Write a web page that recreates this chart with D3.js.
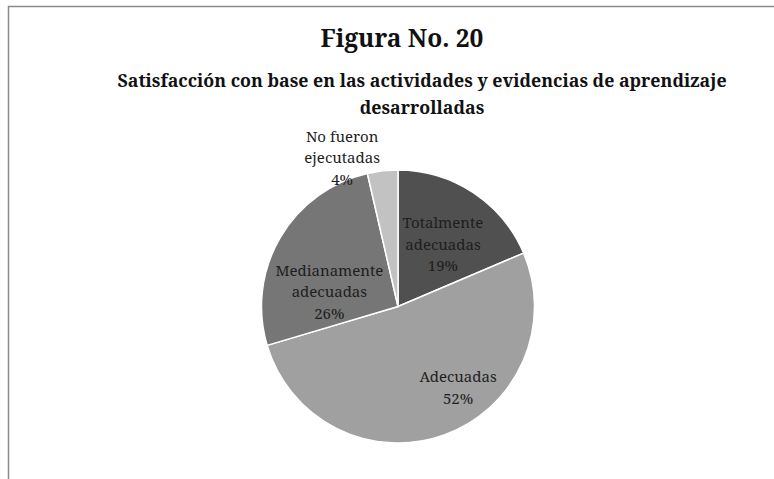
<!DOCTYPE html>
<html>
<head>
<meta charset="utf-8">
<script src="https://cdn.jsdelivr.net/npm/d3@7"></script>
<style>
  body { margin: 0; background: #fff; }
  svg text { font-family: "Noto Serif", "DejaVu Serif", serif; }
</style>
</head>
<body>
<div id="chart"></div>
<script>
// data
var categories = ["Totalmente adecuadas", "Adecuadas", "Medianamente adecuadas", "No fueron ejecutadas"];
var labelLines = [["Totalmente", "adecuadas"], ["Adecuadas"], ["Medianamente", "adecuadas"], ["No fueron", "ejecutadas"]];
var values = [18.6, 51.8, 26.0, 3.6];
var colors = ["#505050", "#a0a0a0", "#767676", "#c2c2c2"];

// label placement tweaks (Excel "best fit" style)
var labelRadius = [0.65, 0.65, 0.65, 1.16];
var labelNudge = [[-4, 12], [30, -2], [8, 30], [-38, 9]];

var width = 774, height = 479;
var cx = 398, cy = 306.5, radius = 136.5;

var svg = d3.select("#chart")
  .append("svg")
    .attr("width", width)
    .attr("height", height);

// frame (only top and left edges visible in the crop)
svg.append("rect")
  .attr("x", 8.5).attr("y", 6.5)
  .attr("width", width + 20).attr("height", height + 20)
  .attr("fill", "none")
  .attr("stroke", "#8a8a8a")
  .attr("stroke-width", 1.5);

svg.append("text")
  .attr("x", 402).attr("y", 47)
  .attr("text-anchor", "middle")
  .attr("font-size", 24.5).attr("font-weight", "bold")
  .attr("fill", "#111")
  .text("Figura No. 20");

svg.append("text")
  .attr("x", 422).attr("y", 87)
  .attr("text-anchor", "middle")
  .attr("font-size", 17.8).attr("font-weight", "bold")
  .attr("fill", "#111")
  .text("Satisfacción con base en las actividades y evidencias de aprendizaje");

svg.append("text")
  .attr("x", 422).attr("y", 114)
  .attr("text-anchor", "middle")
  .attr("font-size", 17.8).attr("font-weight", "bold")
  .attr("fill", "#111")
  .text("desarrolladas");

var pie = d3.pie().sort(null).value(function(d) { return d; });
var arcs = pie(values);
var total = d3.sum(values);

var arc = d3.arc().innerRadius(0).outerRadius(radius);

var g = svg.append("g")
  .attr("transform", "translate(" + cx + "," + cy + ")");

g.selectAll("path")
  .data(arcs)
  .enter()
  .append("path")
    .attr("d", arc)
    .attr("fill", function(d, i) { return colors[i]; })
    .attr("stroke", "#fff")
    .attr("stroke-width", 1.5)
    .attr("stroke-linejoin", "round");

var labels = g.selectAll("g.lbl")
  .data(arcs)
  .enter()
  .append("g")
    .attr("class", "lbl")
    .attr("transform", function(d, i) {
      var r = radius * labelRadius[i];
      var c = d3.arc().innerRadius(r).outerRadius(r).centroid(d);
      return "translate(" + (c[0] + labelNudge[i][0]) + "," + (c[1] + labelNudge[i][1]) + ")";
    });

labels.each(function(d, i) {
  var lines = labelLines[i].concat([Math.round(d.value / total * 100) + "%"]);
  var lh = 21.5;
  var start = -(lines.length - 1) / 2 * lh;
  var t = d3.select(this).append("text")
    .attr("text-anchor", "middle")
    .attr("font-size", 15)
    .attr("fill", "#1e1e1e");
  lines.forEach(function(s, k) {
    t.append("tspan")
      .attr("x", 0)
      .attr("y", start + k * lh)
      .attr("dy", "0.35em")
      .text(s);
  });
});
</script>
</body>
</html>
